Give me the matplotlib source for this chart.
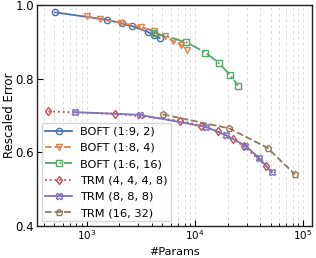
import matplotlib
matplotlib.use("Agg")
import matplotlib.pyplot as plt

blue_x = [507, 1530, 2090, 2610, 3650, 4140, 4710]
blue_y = [0.980, 0.960, 0.950, 0.943, 0.927, 0.918, 0.910]

orange_x = [1000, 1318, 2060, 3150, 4140, 5240, 6200, 7360, 8360]
orange_y = [0.969, 0.961, 0.952, 0.941, 0.929, 0.915, 0.903, 0.892, 0.879]

green_x = [4140, 8300, 12500, 16700, 21000, 25000]
green_y = [0.925, 0.899, 0.871, 0.842, 0.811, 0.781]

red_x = [440, 1810, 7310, 11400, 16200, 22300, 28600, 45600]
red_y = [0.711, 0.705, 0.686, 0.672, 0.657, 0.637, 0.616, 0.562]

purple_x = [774, 3080, 12700, 19500, 29200, 39300, 51300]
purple_y = [0.709, 0.702, 0.669, 0.646, 0.618, 0.584, 0.546]

brown_x = [5050, 20800, 46900, 84300]
brown_y = [0.703, 0.665, 0.612, 0.540]

labels = ["BOFT (1:9, 2)", "BOFT (1:8, 4)", "BOFT (1:6, 16)",
          "TRM (4, 4, 4, 8)", "TRM (8, 8, 8)", "TRM (16, 32)"]

colors = ["#4C72B0", "#DD8452", "#55A868", "#C44E52", "#8172B3", "#937860"]

plt.rcParams['font.family'] = ['DejaVu Sans']
fig = plt.figure(figsize=(3.16, 2.58), dpi=100)
ax = fig.add_axes([37/316, 32/258, 275/316, 221/258])

series = [
    (blue_x, blue_y, 'o', '-'),
    (orange_x, orange_y, 'v', '--'),
    (green_x, green_y, 's', '-.'),
    (red_x, red_y, 'd', ':'),
    (purple_x, purple_y, 'X', '-'),
    (brown_x, brown_y, 'p', '--'),
]
for (x, y, m, ls), lab, c in zip(series, labels, colors):
    ax.plot(x, y, marker=m, linestyle=ls, color=c, mfc='none', mec=c,
            markersize=4.5, lw=1.3, mew=1.0, label=lab)

ax.set_xscale('log')
ax.set_xlim(345, 1.21e5)
ax.set_ylim(0.4, 1.0)
ax.set_yticks([0.4, 0.6, 0.8, 1.0])
ax.set_yticklabels(["0.4", "0.6", "0.8", "1.0"])
ax.grid(True, which='both', axis='x', linestyle=(0, (3, 3)), color='#dcdcdc', lw=0.7)
ax.tick_params(direction='in', which='both', labelsize=8.5, pad=2)
ax.tick_params(axis='x', which='both', labelsize=7.5, pad=1.5)
ax.tick_params(which='major', length=4)
ax.tick_params(which='minor', length=2.5)
for s in ax.spines.values():
    s.set_color('#222222')
    s.set_linewidth(1.0)
ax.set_xlabel("#Params", fontsize=8, va='bottom')
ax.xaxis.set_label_coords(0.5, -31/221)
ax.set_ylabel("Rescaled Error", fontsize=8.5, labelpad=0)
leg = ax.legend(loc='lower left', fontsize=8.2, framealpha=0.8, edgecolor='#cccccc',
                fancybox=False, handlelength=2.4, handletextpad=0.7,
                borderpad=0.3, labelspacing=0.55, borderaxespad=0.4)
fig.savefig("out.png", dpi=100)
